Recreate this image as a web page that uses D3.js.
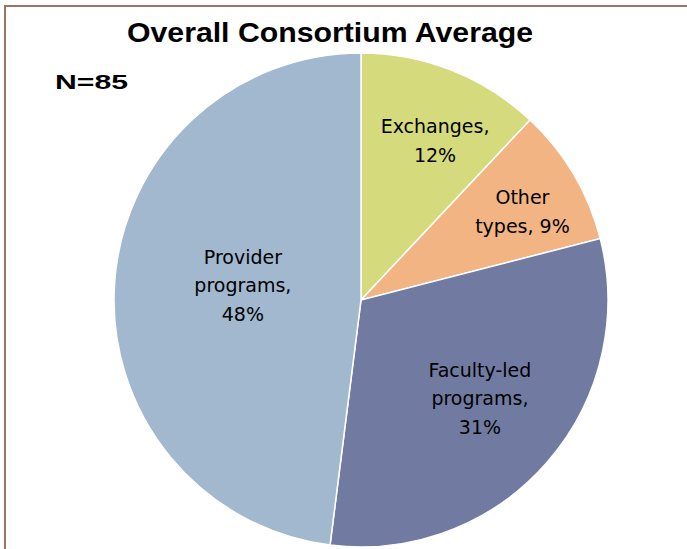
<!DOCTYPE html>
<html lang="en">
<head>
<meta charset="utf-8">
<title>Overall Consortium Average</title>
<script src="https://cdn.jsdelivr.net/npm/d3@7"></script>
<style>
  body { margin: 0; background: #fff; }
  text { font-family: "Liberation Sans", Arial, sans-serif; fill: #000; }
  .lbl { font-family: "DejaVu Sans", Verdana, sans-serif; }
</style>
</head>
<body>
<script>
// data
var categories = ["Exchanges", "Other types", "Faculty-led programs", "Provider programs"];
var shares = [12, 9, 31, 48];
var labelLines = [
  ["Exchanges,", "12%"],
  ["Other", "types, 9%"],
  ["Faculty-led", "programs,", "31%"],
  ["Provider", "programs,", "48%"]
];
var colors = ["#D5DB7D", "#F2B482", "#717BA2", "#A2B8CF"];

var w = 687, h = 549;
var cx = 361, cy = 300, r = 247;

var svg = d3.select("body").append("svg")
  .attr("width", w)
  .attr("height", h);

// frame (only top and left edges are visible in the crop)
svg.append("path")
  .attr("d", "M5," + h + "V6H" + w)
  .attr("fill", "none")
  .attr("stroke", "#9A7565")
  .attr("stroke-width", 2);

var pie = d3.pie().sort(null).value(function(d) { return d; });
var arcs = pie(shares);

var arc = d3.arc().innerRadius(0).outerRadius(r);

var g = svg.append("g").attr("transform", "translate(" + cx + "," + cy + ")");

g.selectAll("path.slice")
  .data(arcs)
  .enter()
  .append("path")
  .attr("class", "slice")
  .attr("d", arc)
  .attr("fill", function(d, i) { return colors[i]; })
  .attr("stroke", "#fff")
  .attr("stroke-width", 1.5);

// label placement: fraction of radius, and small angle nudge (deg) from mid angle
var labelR = [0.712, 0.745, 0.624, 0.482];
var labelNudge = [3.3, 1.9, -1.9, 3.6];
var lineH = 28.5;

var labels = g.selectAll("text.lbl")
  .data(arcs)
  .enter()
  .append("text")
  .attr("class", "lbl")
  .attr("text-anchor", "middle")
  .style("font-size", "19px")
  .attr("transform", function(d, i) {
    var a = (d.startAngle + d.endAngle) / 2 + labelNudge[i] * Math.PI / 180;
    var rr = r * labelR[i];
    return "translate(" + (Math.sin(a) * rr) + "," + (-Math.cos(a) * rr) + ")";
  });

labels.each(function(d, i) {
  var lines = labelLines[i];
  var t = d3.select(this);
  lines.forEach(function(s, k) {
    t.append("tspan")
      .attr("x", 0)
      .attr("y", 7 + (k - (lines.length - 1) / 2) * lineH)
      .text(s);
  });
});

// title
svg.append("text")
  .attr("x", 330)
  .attr("y", 42)
  .attr("text-anchor", "middle")
  .attr("textLength", 406)
  .attr("lengthAdjust", "spacingAndGlyphs")
  .style("font-size", "28px")
  .style("font-weight", "bold")
  .text("Overall Consortium Average");

svg.append("text")
  .attr("x", 55)
  .attr("y", 89)
  .attr("textLength", 73)
  .attr("lengthAdjust", "spacingAndGlyphs")
  .style("font-size", "20px")
  .style("font-weight", "bold")
  .text("N=85");
</script>
</body>
</html>
